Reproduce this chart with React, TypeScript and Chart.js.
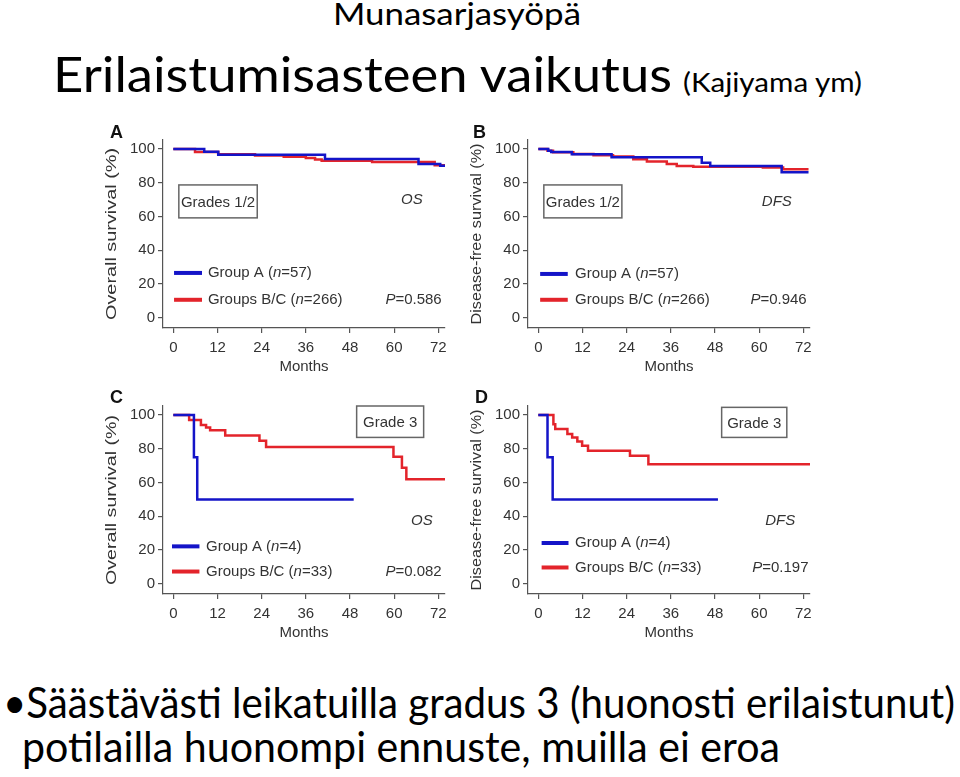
import React, { useEffect, useLayoutEffect, useRef } from "react";
import { Chart, registerables } from "chart.js";
Chart.register(...registerables);

// ---------- data ----------
const monthTicks = [0, 12, 24, 36, 48, 60, 72];
const survivalTicks = [0, 20, 40, 60, 80, 100];

// A: Overall survival, grades 1/2
const aGroupA_t = [0, 8.4, 12.2, 41.2, 66.6, 72.5, 73.8];
const aGroupA_s = [100, 98.4, 96.5, 94.0, 91.1, 90.1, 90.1];
const aGroupBC_t = [0, 5.9, 12.2, 22.2, 30, 36, 38.5, 40.3, 54, 71, 73.8];
const aGroupBC_s = [100, 98.2, 96.8, 96.1, 95.4, 94.6, 93.7, 93.0, 92.3, 90.3, 90.3];

// B: Disease-free survival, grades 1/2
const bGroupA_t = [0, 2.7, 3.5, 9.1, 19.9, 44.4, 46.7, 66.1, 73.4];
const bGroupA_s = [100, 99, 98.2, 96.8, 95.1, 91.9, 89.9, 86.2, 86.2];
const bGroupBC_t = [0, 2.5, 4, 9.5, 15, 20.3, 25.8, 29.5, 34.9, 37.6, 42.1, 61, 66.5, 73.4];
const bGroupBC_s = [100, 99, 98, 97, 96.3, 95.5, 93.9, 92.5, 91.1, 89.9, 89.4, 89, 88, 88];

// C: Overall survival, grade 3
const cGroupA_t = [0, 5.6, 6.5, 49];
const cGroupA_s = [100, 75, 50, 50];
const cGroupBC_t = [0, 4.3, 7.5, 8.9, 10, 14.1, 23.4, 25.2, 59.8, 62.1, 63.3, 73.8];
const cGroupBC_s = [100, 97, 94, 92.5, 90.9, 87.9, 84.8, 81, 75.2, 68.8, 61.9, 61.9];

// D: Disease-free survival, grade 3
const dGroupA_t = [0, 2.5, 3.9, 48.8];
const dGroupA_s = [100, 75, 50, 50];
const dGroupBC_t = [0, 4.1, 4.6, 7.9, 9.2, 10.6, 11.9, 13.5, 24.9, 29.9, 73.8];
const dGroupBC_s = [100, 94.5, 91.7, 88.7, 86.7, 84.3, 81.7, 78.8, 75.8, 70.8, 70.8];

// ---------- style ----------
const FONT = '"Liberation Sans", Arial, Helvetica, sans-serif';
const TXT = "#333";
const AX = "#555";
const BLUE = "#1414c8";
const RED = "#e3242b";

const panels = [
  {
    left: 100, top: 120, letter: "A", letterX: 10, letterY: 13,
    aT: aGroupA_t, aS: aGroupA_s, bT: aGroupBC_t, bS: aGroupBC_s,
    yTitle: "Overall survival (%)", yLen: 172,
    box: { x0: 1.5, x1: 22.8, y0: 59.2, y1: 78.7, text: "Grades 1/2" },
    tag: { x: 64.8, y: 69.8, text: "OS" },
    legend: { x0: 0.2, x1: 7.8, xt: 9.4, y1: 26.6, y2: 10.7, nA: "=57)", nB: "=266)" },
    p: { x: 72.9, y: 10.7, text: "=0.586" },
  },
  {
    left: 465, top: 120, letter: "B", letterX: 8, letterY: 13,
    aT: bGroupA_t, aS: bGroupA_s, bT: bGroupBC_t, bS: bGroupBC_s,
    yTitle: "Disease-free survival (%)", yLen: 181,
    box: { x0: 1.5, x1: 22.7, y0: 59.2, y1: 78.7, text: "Grades 1/2" },
    tag: { x: 64.8, y: 68.8, text: "DFS" },
    legend: { x0: 0.5, x1: 8, xt: 10, y1: 26, y2: 10.7, nA: "=57)", nB: "=266)" },
    p: { x: 72.9, y: 10.7, text: "=0.946" },
  },
  {
    left: 100, top: 386, letter: "C", letterX: 10, letterY: 12,
    aT: cGroupA_t, aS: cGroupA_s, bT: cGroupBC_t, bS: cGroupBC_s,
    yTitle: "Overall survival (%)", yLen: 170,
    box: { x0: 49.8, x1: 68, y0: 86.7, y1: 105.3, text: "Grade 3" },
    tag: { x: 67.5, y: 37.1, text: "OS" },
    legend: { x0: -0.35, x1: 7.1, xt: 8.9, y1: 22.2, y2: 7.3, nA: "=4)", nB: "=33)" },
    p: { x: 72.9, y: 7.3, text: "=0.082" },
  },
  {
    left: 465, top: 386, letter: "D", letterX: 10, letterY: 12,
    aT: dGroupA_t, aS: dGroupA_s, bT: dGroupBC_t, bS: dGroupBC_s,
    yTitle: "Disease-free survival (%)", yLen: 181,
    box: { x0: 49.8, x1: 67.5, y0: 86.7, y1: 104.5, text: "Grade 3" },
    tag: { x: 65.7, y: 37.1, text: "DFS" },
    legend: { x0: 0.9, x1: 8.2, xt: 10, y1: 24.2, y2: 9.7, nA: "=4)", nB: "=33)" },
    p: { x: 73.4, y: 9.7, text: "=0.197" },
  },
];

function pts(t: number[], s: number[]) {
  return t.map((v, i) => ({ x: v, y: s[i] }));
}

function drawParts(ctx: CanvasRenderingContext2D, parts: [string, boolean][], x: number, y: number) {
  let cx = x;
  for (const [txt, ital] of parts) {
    ctx.font = `${ital ? "italic " : ""}15px ${FONT}`;
    ctx.fillText(txt, cx, y);
    cx += ctx.measureText(txt).width;
  }
  return cx - x;
}
function measureParts(ctx: CanvasRenderingContext2D, parts: [string, boolean][]) {
  let w = 0;
  for (const [txt, ital] of parts) {
    ctx.font = `${ital ? "italic " : ""}15px ${FONT}`;
    w += ctx.measureText(txt).width;
  }
  return w;
}

function makePlugin(spec: any) {
  return {
    id: "annot" + spec.letter,
    afterDraw(chart: any) {
      const { ctx, chartArea } = chart;
      const x = chart.scales.x;
      const y = chart.scales.y;
      ctx.save();
      ctx.textBaseline = "middle";
      // panel letter
      ctx.fillStyle = "#111";
      ctx.textAlign = "left";
      ctx.font = `bold 18px ${FONT}`;
      ctx.fillText(spec.letter, spec.letterX, spec.letterY);
      // y title (stretched)
      ctx.save();
      ctx.translate(12, (chartArea.top + chartArea.bottom) / 2);
      ctx.rotate(-Math.PI / 2);
      ctx.font = `15px ${FONT}`;
      ctx.fillStyle = TXT;
      ctx.textAlign = "center";
      const w = ctx.measureText(spec.yTitle).width;
      ctx.scale(spec.yLen / w, 1);
      ctx.fillText(spec.yTitle, 0, 0);
      ctx.restore();
      // box
      const b = spec.box;
      const bx0 = x.getPixelForValue(b.x0), bx1 = x.getPixelForValue(b.x1);
      const by0 = y.getPixelForValue(b.y0), by1 = y.getPixelForValue(b.y1);
      ctx.strokeStyle = "#666";
      ctx.lineWidth = 1.5;
      ctx.strokeRect(bx0, by1, bx1 - bx0, by0 - by1);
      ctx.fillStyle = TXT;
      ctx.textAlign = "center";
      ctx.font = `15px ${FONT}`;
      ctx.fillText(b.text, (bx0 + bx1) / 2, (by0 + by1) / 2 + 1);
      // tag
      ctx.font = `italic 15px ${FONT}`;
      ctx.fillText(spec.tag.text, x.getPixelForValue(spec.tag.x), y.getPixelForValue(spec.tag.y));
      // legend
      const L = spec.legend;
      const lx0 = x.getPixelForValue(L.x0), lx1 = x.getPixelForValue(L.x1), lxt = x.getPixelForValue(L.xt);
      const ly1 = y.getPixelForValue(L.y1), ly2 = y.getPixelForValue(L.y2);
      ctx.lineWidth = 4;
      ctx.lineCap = "butt";
      ctx.strokeStyle = BLUE;
      ctx.beginPath(); ctx.moveTo(lx0, ly1); ctx.lineTo(lx1, ly1); ctx.stroke();
      ctx.strokeStyle = RED;
      ctx.beginPath(); ctx.moveTo(lx0, ly2); ctx.lineTo(lx1, ly2); ctx.stroke();
      ctx.fillStyle = TXT;
      ctx.textAlign = "left";
      drawParts(ctx, [["Group A (", false], ["n", true], [L.nA, false]], lxt, ly1);
      drawParts(ctx, [["Groups B/C (", false], ["n", true], [L.nB, false]], lxt, ly2);
      // P value
      const pParts: [string, boolean][] = [["P", true], [spec.p.text, false]];
      const pw = measureParts(ctx, pParts);
      drawParts(ctx, pParts, x.getPixelForValue(spec.p.x) - pw, y.getPixelForValue(spec.p.y));
      ctx.restore();
    },
  };
}

function Panel({ spec }: { spec: any }) {
  const ref = useRef<HTMLCanvasElement>(null);
  useEffect(() => {
    if (!ref.current) return;
    const tickFont = { family: FONT, size: 15 };
    const chart = new Chart(ref.current, {
      type: "scatter",
      data: {
        datasets: [
          {
            label: "Group A",
            data: pts(spec.aT, spec.aS),
            borderColor: BLUE,
            backgroundColor: BLUE,
            borderWidth: 2.5,
            showLine: true,
            stepped: "before",
            pointRadius: 0,
            fill: false,
          },
          {
            label: "Groups B/C",
            data: pts(spec.bT, spec.bS),
            borderColor: RED,
            backgroundColor: RED,
            borderWidth: 2.5,
            showLine: true,
            stepped: "before",
            pointRadius: 0,
            fill: false,
          },
        ],
      } as any,
      options: {
        animation: false,
        responsive: false,
        maintainAspectRatio: false,
        layout: { padding: { top: 20, right: 15, left: 0, bottom: 0 } },
        plugins: { legend: { display: false }, tooltip: { enabled: false } },
        scales: {
          x: {
            type: "linear",
            min: -2.8,
            max: 73.8,
            afterBuildTicks: (s: any) => {
              s.ticks = monthTicks.map((v) => ({ value: v }));
            },
            afterFit: (s: any) => {
              s.height = 52;
            },
            border: { display: true, color: AX, width: 1.2 },
            grid: { display: true, drawOnChartArea: false, drawTicks: true, tickLength: 5, color: AX, lineWidth: 1.2 },
            ticks: { color: TXT, font: tickFont, padding: 6, maxRotation: 0, autoSkip: false },
            title: { display: true, text: "Months", color: TXT, font: tickFont, padding: { top: 0, bottom: 4 } },
          },
          y: {
            type: "linear",
            min: -6,
            max: 105.3,
            afterBuildTicks: (s: any) => {
              s.ticks = survivalTicks.map((v) => ({ value: v }));
            },
            afterFit: (s: any) => {
              s.width = 63;
            },
            border: { display: true, color: AX, width: 1.2 },
            grid: { display: true, drawOnChartArea: false, drawTicks: true, tickLength: 5, color: AX, lineWidth: 1.2 },
            ticks: { color: TXT, font: tickFont, padding: 3, autoSkip: false },
            title: { display: false },
          },
        },
      } as any,
      plugins: [makePlugin(spec)],
    });
    return () => chart.destroy();
  }, []);
  return (
    <div style={{ position: "absolute", left: spec.left, top: spec.top, width: 360, height: 260 }}>
      <canvas ref={ref} width={360} height={260} style={{ display: "block" }} />
    </div>
  );
}

function FitText({ text, left, top, size, width }: { text: string; left: number; top: number; size: number; width: number }) {
  const ref = useRef<HTMLSpanElement>(null);
  useLayoutEffect(() => {
    const el = ref.current;
    if (!el) return;
    el.style.transform = "none";
    const w = el.getBoundingClientRect().width;
    if (w > 0) el.style.transform = `scaleX(${width / w})`;
  }, []);
  return (
    <span
      ref={ref}
      style={{
        position: "absolute",
        left,
        top,
        fontSize: size,
        lineHeight: 1,
        fontFamily: "Lato, 'Open Sans', sans-serif",
        whiteSpace: "nowrap",
        transformOrigin: "left top",
        color: "#000",
      }}
    >
      {text}
    </span>
  );
}

export default function App() {
  return (
    <div style={{ position: "absolute", left: 0, top: 0, width: 960, height: 777, background: "#fff", overflow: "hidden" }}>
      <FitText text="Munasarjasyöpä" left={333} top={-2.5} size={31} width={248} />
      <FitText text="Erilaistumisasteen vaikutus" left={53} top={48.5} size={49} width={619} />
      <FitText text="(Kajiyama ym)" left={683} top={68.5} size={26.5} width={179} />
      {panels.map((p) => (
        <Panel key={p.letter} spec={p} />
      ))}
      <FitText text="•Säästävästi leikatuilla gradus 3 (huonosti erilaistunut)" left={3} top={680} size={43} width={952} />
      <FitText text="potilailla huonompi ennuste, muilla ei eroa" left={22} top={724} size={43} width={758} />
    </div>
  );
}
